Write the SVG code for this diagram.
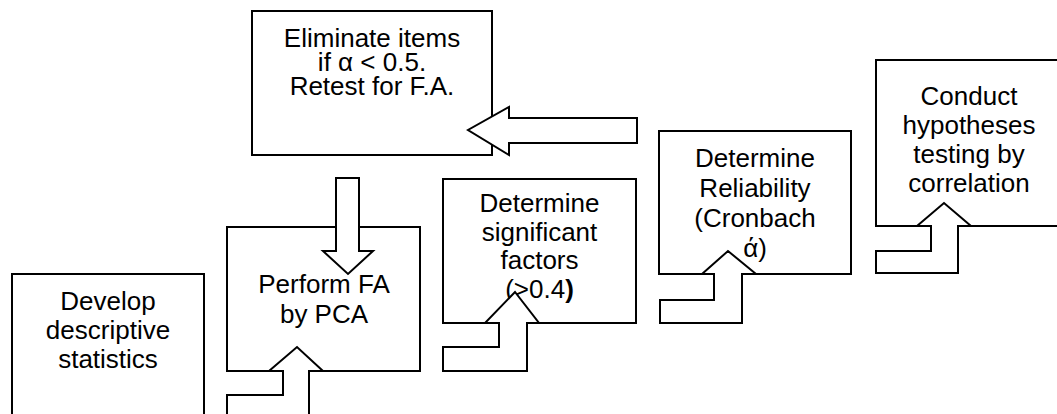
<svg xmlns="http://www.w3.org/2000/svg" width="1057" height="414" viewBox="0 0 1057 414">
<style>
.box{fill:#fff;stroke:#000;stroke-width:2}
.arr{fill:#fff;stroke:#000;stroke-width:2;stroke-linejoin:miter}
text{font-family:"Liberation Sans",Arial,sans-serif;font-size:26px;fill:#000;text-anchor:middle}
</style>
<rect width="1057" height="414" fill="#fff"/>
<g id="develop">
<rect class="box" x="12" y="274" width="192" height="160"/>
<text x="108" y="310">Develop</text>
<text x="108" y="339">descriptive</text>
<text x="108" y="368">statistics</text>
</g>
<g id="eliminate">
<rect class="box" x="252" y="11" width="240" height="144"/>
<text x="372" y="47">Eliminate items</text>
<text x="372" y="71">if α &lt; 0.5.</text>
<text x="372" y="95">Retest for F.A.</text>
</g>
<g id="perform">
<rect class="box" x="227" y="227" width="193" height="144"/>
<text x="324" y="293">Perform FA</text>
<text x="324" y="323">by PCA</text>
</g>
<g id="significant">
<rect class="box" x="443" y="179" width="193" height="144"/>
<text x="539.5" y="211.5">Determine</text>
<text x="539.5" y="240.5">significant</text>
<text x="539.5" y="269">factors</text>
<text x="539.5" y="298">(&gt;0.4<tspan font-weight="bold">)</tspan></text>
</g>
<g id="reliability">
<rect class="box" x="659" y="131" width="192" height="143"/>
<text x="755" y="167">Determine</text>
<text x="755" y="197">Reliability</text>
<text x="755" y="227">(Cronbach</text>
<text x="755" y="257">ά)</text>
</g>
<g id="conduct">
<rect class="box" x="876" y="60" width="190" height="166"/>
<text x="969" y="105">Conduct</text>
<text x="969" y="134">hypotheses</text>
<text x="969" y="163">testing by</text>
<text x="969" y="192">correlation</text>
</g>
<g id="connectors">
<polygon class="arr" points="637,118 509,118 509,107 468,130 509,155 509,143 637,143"/>
<polygon class="arr" points="336,178 359,178 359,251 373,251 348,274 323,251 336,251"/>
<polygon class="arr" points="227,395 283,395 283,371 269,371 297,347 323,371 309,371 309,422 227,422"/>
<polygon class="arr" points="443,347 499,347 499,323 485,323 515,292 539,323 527,323 527,371 443,371"/>
<polygon class="arr" points="660,300 714,300 714,274 702,274 728,251 756,274 742,274 742,323 660,323"/>
<polygon class="arr" points="876,251 931,251 931,226 917,226 944,203 971,226 958,226 958,273 876,273"/>
</g>
</svg>
